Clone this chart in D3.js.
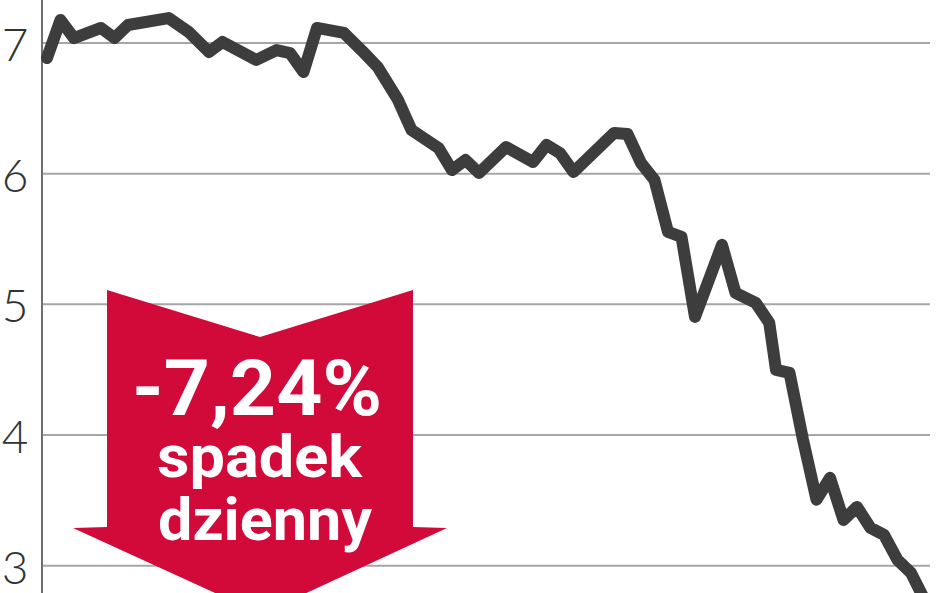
<!DOCTYPE html>
<html>
<head>
<meta charset="utf-8">
<script src="https://cdn.jsdelivr.net/npm/d3@7"></script>
<style>
  html, body { margin: 0; padding: 0; background: #ffffff; }
  svg { display: block; }
</style>
</head>
<body>
<svg id="chart" width="948" height="593"></svg>
<script>
// Session index (trading days) and price values
const sessions = [0, 2, 4, 8, 10, 12, 18, 21, 24, 26, 31, 34, 36, 38, 40, 44, 47, 49, 52, 54,
  58, 60, 62, 64, 68, 72, 74, 76, 78, 84, 86, 88, 90, 92, 94, 96, 100, 102, 105, 107,
  108, 110, 112, 114, 116, 118, 120, 122, 124, 126, 128, 130];
const prices = [6.885, 7.176, 7.038, 7.115, 7.038, 7.138, 7.191, 7.084, 6.931, 7.008,
  6.870, 6.946, 6.923, 6.778, 7.115, 7.077, 6.923, 6.816, 6.564, 6.334,
  6.197, 6.028, 6.105, 6.005, 6.204, 6.090, 6.220, 6.158, 6.013, 6.311,
  6.304, 6.082, 5.952, 5.554, 5.516, 4.904, 5.455, 5.088, 5.012, 4.859,
  4.499, 4.476, 3.964, 3.505, 3.672, 3.350, 3.450, 3.289, 3.236, 3.044,
  2.945, 2.740];
const yTicks = [3, 4, 5, 6, 7];
const tickLabels = ["3", "4", "5", "6", "7"];
const annotationLines = ["-7,24%", "spadek", "dzienny"];

const svg = d3.select("#chart");
const x = d3.scaleLinear().domain([0, 130]).range([47, 924.5]);
const y = d3.scaleLinear().domain([3, 7]).range([565.7, 43]);

// gridlines
svg.append("g")
  .selectAll("line")
  .data(yTicks)
  .join("line")
  .attr("x1", 43).attr("x2", 930)
  .attr("y1", d => y(d)).attr("y2", d => y(d))
  .attr("stroke", "#a6a6a6")
  .attr("stroke-width", 2);

// y axis line
svg.append("line")
  .attr("x1", 42).attr("x2", 42)
  .attr("y1", 0).attr("y2", 593)
  .attr("stroke", "#6e6e6e")
  .attr("stroke-width", 2);

// y labels
svg.append("g")
  .selectAll("text")
  .data(yTicks)
  .join("text")
  .attr("x", 15)
  .attr("y", d => y(d) + 18)
  .attr("text-anchor", "middle")
  .attr("font-family", "Lato, 'DejaVu Sans', sans-serif")
  .attr("font-weight", 300)
  .attr("font-size", 46)
  .attr("fill", "#333")
  .text((d, i) => tickLabels[i]);

// price line
const line = d3.line()
  .x((d, i) => x(sessions[i]))
  .y(d => y(d));
svg.append("path")
  .datum(prices)
  .attr("d", line)
  .attr("fill", "none")
  .attr("stroke", "#3d3d3d")
  .attr("stroke-width", 12)
  .attr("stroke-linejoin", "round")
  .attr("stroke-linecap", "round");

// red down arrow annotation
const arrowPts = [[107, 290], [260, 337], [413, 290], [413, 527], [447, 528],
  [261, 614], [73, 528], [107, 527]];
svg.append("path")
  .attr("d", d3.line()(arrowPts) + "Z")
  .attr("fill", "#d20a3a");

const textSpecs = [
  { x: 132, y: 415, size: 78, len: 250 },
  { x: 157, y: 477, size: 59, len: 205 },
  { x: 158, y: 540, size: 59, len: 214 }
];
svg.append("g")
  .selectAll("text")
  .data(annotationLines)
  .join("text")
  .attr("x", (d, i) => textSpecs[i].x)
  .attr("y", (d, i) => textSpecs[i].y)
  .attr("font-family", "Roboto, 'DejaVu Sans', sans-serif")
  .attr("font-weight", 700)
  .attr("font-size", (d, i) => textSpecs[i].size)
  .attr("textLength", (d, i) => textSpecs[i].len)
  .attr("lengthAdjust", "spacingAndGlyphs")
  .attr("fill", "#ffffff")
  .text(d => d);
</script>
</body>
</html>
